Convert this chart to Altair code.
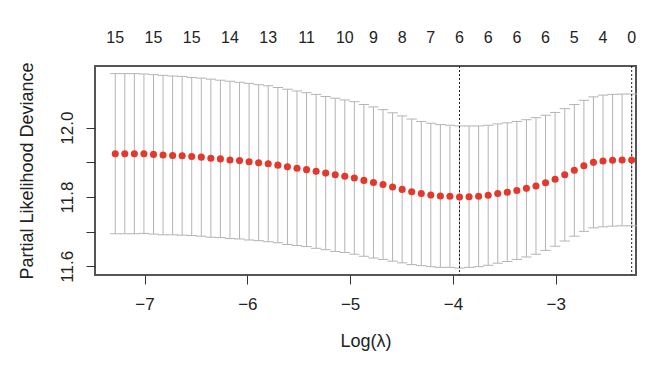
import altair as alt
import pandas as pd

# log(lambda) grid
log_lambda = [-7.285, -7.192, -7.099, -7.006, -6.913, -6.820, -6.727, -6.634, -6.541, -6.448,
              -6.355, -6.262, -6.169, -6.076, -5.983, -5.890, -5.797, -5.703, -5.610, -5.517,
              -5.424, -5.331, -5.238, -5.145, -5.052, -4.959, -4.866, -4.773, -4.680, -4.587,
              -4.494, -4.401, -4.308, -4.215, -4.122, -4.029, -3.936, -3.843, -3.750, -3.657,
              -3.564, -3.471, -3.378, -3.285, -3.192, -3.099, -3.006, -2.912, -2.819, -2.726,
              -2.633, -2.540, -2.447, -2.354, -2.261]

# mean partial likelihood deviance
cv_mean = [11.925, 11.925, 11.925, 11.925, 11.923, 11.921, 11.920, 11.919, 11.917, 11.915,
           11.912, 11.910, 11.907, 11.905, 11.902, 11.899, 11.896, 11.892, 11.887, 11.883,
           11.879, 11.874, 11.869, 11.864, 11.860, 11.855, 11.848, 11.842, 11.836, 11.829,
           11.822, 11.815, 11.810, 11.806, 11.803, 11.802, 11.800, 11.801, 11.802, 11.805,
           11.810, 11.814, 11.819, 11.825, 11.832, 11.841, 11.851, 11.864, 11.877, 11.890,
           11.900, 11.904, 11.906, 11.907, 11.907]

# standard error (half bar length)
cv_se = [0.231, 0.231, 0.231, 0.230, 0.230, 0.230, 0.229, 0.229, 0.228, 0.228,
         0.228, 0.227, 0.227, 0.226, 0.226, 0.225, 0.225, 0.224, 0.224, 0.223,
         0.222, 0.222, 0.221, 0.221, 0.220, 0.220, 0.219, 0.218, 0.216, 0.214,
         0.212, 0.210, 0.208, 0.207, 0.206, 0.205, 0.205, 0.204, 0.203, 0.202,
         0.201, 0.200, 0.199, 0.198, 0.197, 0.195, 0.193, 0.191, 0.190, 0.189,
         0.189, 0.190, 0.190, 0.190, 0.190]

# number of non-zero coefficients shown on top
nzero_pos = [-7.285, -6.913, -6.541, -6.169, -5.797, -5.424, -5.052, -4.773, -4.494,
             -4.215, -3.936, -3.657, -3.378, -3.099, -2.819, -2.540, -2.261]
nzero_labels = ["15", "15", "15", "14", "13", "11", "10", "9", "8", "7",
                "6", "6", "6", "6", "5", "4", "0"]

vlines = [-3.936, -2.261]  # lambda.min, lambda.1se

x_ticks = [-7, -6, -5, -4, -3]
y_ticks = [11.6, 11.7, 11.8, 11.9, 12.0]

FONT = "Liberation Sans"
CAP = 0.05

df = pd.DataFrame({"loglam": log_lambda, "cvm": cv_mean, "se": cv_se})
df["up"] = df["cvm"] + df["se"]
df["lo"] = df["cvm"] - df["se"]
df["cl"] = df["loglam"] - CAP
df["cr"] = df["loglam"] + CAP

top_df = pd.DataFrame({"pos": nzero_pos, "lab": nzero_labels})
vl_df = pd.DataFrame({"v": vlines})

xs = alt.Scale(domain=[-7.482, -2.219], nice=False, zero=False)
ys = alt.Scale(domain=[11.575, 12.178], nice=False, zero=False)

xaxis = alt.Axis(values=x_ticks, format="d", domain=False, grid=False,
                 tickSize=9, tickColor="#333", tickWidth=1,
                 labelFontSize=17, labelFont=FONT, labelColor="#222", labelPadding=12,
                 titleFontSize=18, titleFont=FONT, titleColor="#222", titleFontWeight="normal",
                 titlePadding=20)
yaxis = alt.Axis(values=y_ticks, format=".1f", domain=False, grid=False,
                 labelExpr="(round(datum.value*10) % 2 == 0) ? format(datum.value, '.1f') : ''",
                 tickSize=9, tickColor="#333", tickWidth=1,
                 labelAngle=-90, labelAlign="center", labelBaseline="bottom",
                 labelFontSize=17, labelFont=FONT, labelColor="#222", labelPadding=10,
                 titleFontSize=18, titleFont=FONT, titleColor="#222", titleFontWeight="normal",
                 titlePadding=22)

XT = "Log(λ)"
YT = "Partial Likelihood Deviance"


def X(f):
    return alt.X(f, type="quantitative", scale=xs, axis=xaxis, title=XT)


def Y(f):
    return alt.Y(f, type="quantitative", scale=ys, axis=yaxis, title=YT)


bars = alt.Chart(df).mark_rule(color="#b4b4b4", strokeWidth=1).encode(
    x=X("loglam"), y=Y("lo"), y2="up")
cap_up = alt.Chart(df).mark_rule(color="#b4b4b4", strokeWidth=1).encode(
    x=X("cl"), x2="cr", y=Y("up"))
cap_lo = alt.Chart(df).mark_rule(color="#b4b4b4", strokeWidth=1).encode(
    x=X("cl"), x2="cr", y=Y("lo"))
vline = alt.Chart(vl_df).mark_rule(color="#222", strokeWidth=1, strokeDash=[2, 2]).encode(
    x=X("v"))
pts = alt.Chart(df).mark_circle(color="#e2392c", size=50, opacity=1).encode(
    x=X("loglam"), y=Y("cvm"))
top = alt.Chart(top_df).mark_text(font=FONT, fontSize=16, color="#222", baseline="middle").encode(
    x=X("pos"), y=alt.value(-28), text="lab:N")

chart = alt.layer(bars, cap_up, cap_lo, vline, pts, top).properties(
    width=541, height=209,
    background="white",
    autosize=alt.AutoSizeParams(type="none"),
    padding={"left": 87, "top": 58, "right": 25, "bottom": 85},
).configure_view(stroke="#555", strokeWidth=2)

chart.save("out.html", embed_options={"renderer": "svg", "actions": False})
